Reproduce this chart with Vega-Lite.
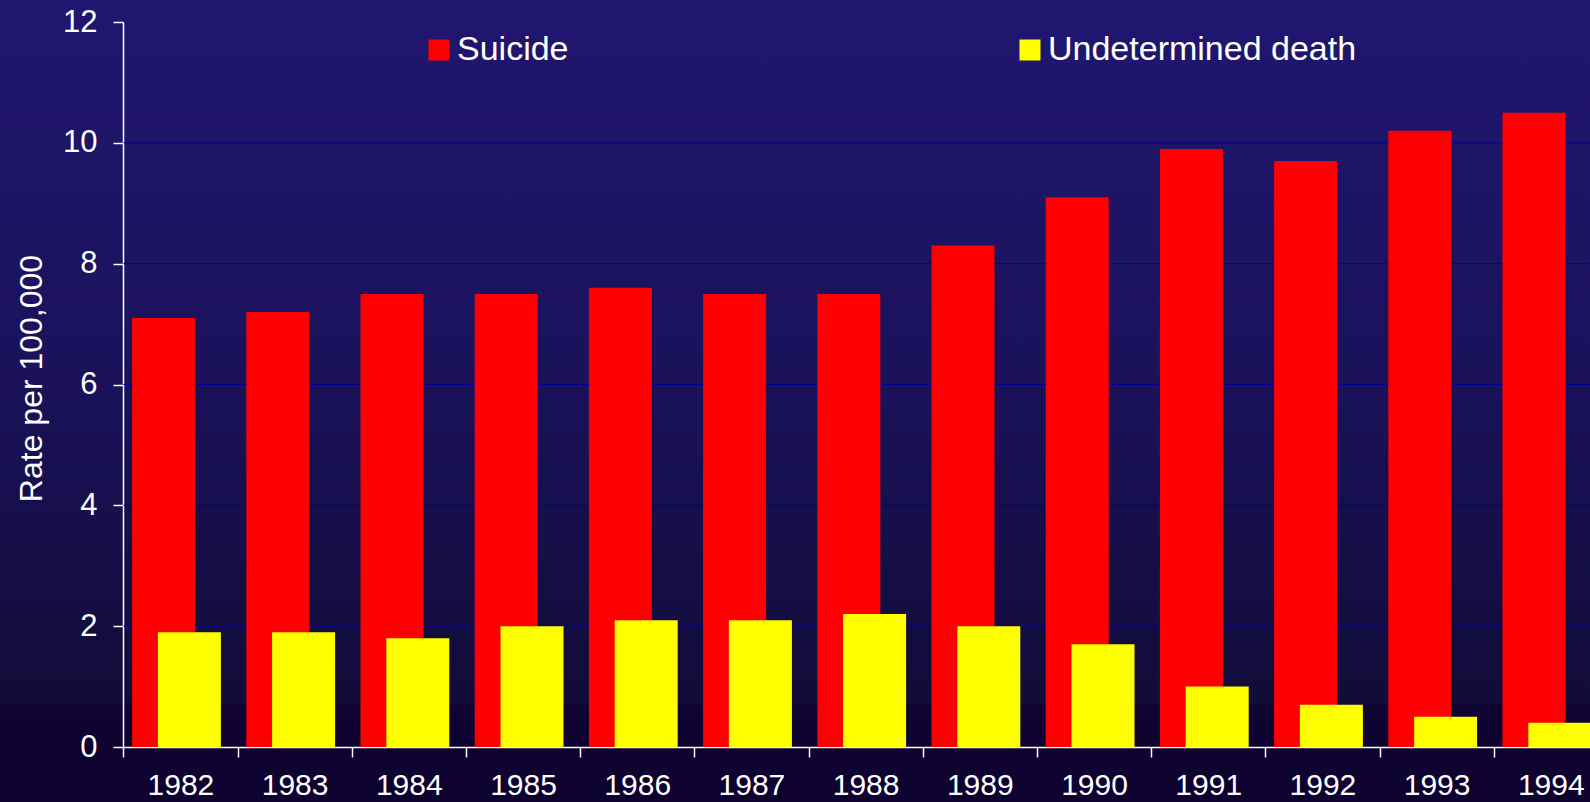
{
  "$schema": "https://vega.github.io/schema/vega-lite/v6.json",
  "width": 1590,
  "height": 802,
  "autosize": {"type": "none"},
  "padding": 0,
  "background": "#0d0230",
  "view": {
    "stroke": null,
    "fill": {
      "gradient": "linear",
      "x1": 0, "y1": 0, "x2": 0, "y2": 1,
      "stops": [
        {"offset": 0, "color": "#211670"},
        {"offset": 0.45, "color": "#1b125c"},
        {"offset": 0.878, "color": "#110c38"},
        {"offset": 0.879, "color": "#0e0331"},
        {"offset": 1, "color": "#0d0230"}
      ]
    }
  },
  "config": {"font": "Liberation Sans"},
  "datasets": {
    "rates": [
      {"year": "1982", "series": "Suicide", "rate": 7.1},
      {"year": "1983", "series": "Suicide", "rate": 7.2},
      {"year": "1984", "series": "Suicide", "rate": 7.5},
      {"year": "1985", "series": "Suicide", "rate": 7.5},
      {"year": "1986", "series": "Suicide", "rate": 7.6},
      {"year": "1987", "series": "Suicide", "rate": 7.5},
      {"year": "1988", "series": "Suicide", "rate": 7.5},
      {"year": "1989", "series": "Suicide", "rate": 8.3},
      {"year": "1990", "series": "Suicide", "rate": 9.1},
      {"year": "1991", "series": "Suicide", "rate": 9.9},
      {"year": "1992", "series": "Suicide", "rate": 9.7},
      {"year": "1993", "series": "Suicide", "rate": 10.2},
      {"year": "1994", "series": "Suicide", "rate": 10.5},
      {"year": "1982", "series": "Undetermined death", "rate": 1.9},
      {"year": "1983", "series": "Undetermined death", "rate": 1.9},
      {"year": "1984", "series": "Undetermined death", "rate": 1.8},
      {"year": "1985", "series": "Undetermined death", "rate": 2.0},
      {"year": "1986", "series": "Undetermined death", "rate": 2.1},
      {"year": "1987", "series": "Undetermined death", "rate": 2.1},
      {"year": "1988", "series": "Undetermined death", "rate": 2.2},
      {"year": "1989", "series": "Undetermined death", "rate": 2.0},
      {"year": "1990", "series": "Undetermined death", "rate": 1.7},
      {"year": "1991", "series": "Undetermined death", "rate": 1.0},
      {"year": "1992", "series": "Undetermined death", "rate": 0.7},
      {"year": "1993", "series": "Undetermined death", "rate": 0.5},
      {"year": "1994", "series": "Undetermined death", "rate": 0.4}
    ],
    "grid": [
      {"g": 2}, {"g": 4}, {"g": 6}, {"g": 8}, {"g": 10}
    ]
  },
  "data": {"name": "rates"},
  "encoding": {
    "x": {
      "field": "year",
      "type": "ordinal",
      "scale": {"type": "band", "range": [123.3, 1607.9], "paddingInner": 0, "paddingOuter": 0},
      "axis": {
        "offset": -55,
        "tickBand": "extent",
        "labelAngle": 0,
        "title": null,
        "grid": false,
        "domainColor": "#ffffff",
        "domainWidth": 1.5,
        "tickColor": "#ffffff",
        "tickWidth": 1.5,
        "tickSize": 10,
        "labelColor": "#ffffff",
        "labelFontSize": 30,
        "labelPadding": 13
      }
    },
    "y": {
      "field": "rate",
      "type": "quantitative",
      "scale": {"domain": [0, 12], "range": [747, 22], "nice": false},
      "axis": {
        "values": [0, 2, 4, 6, 8, 10, 12],
        "offset": -123,
        "grid": false,
        "domainColor": "#ffffff",
        "domainWidth": 1.5,
        "tickColor": "#ffffff",
        "tickWidth": 1.5,
        "tickSize": 10,
        "labelColor": "#ffffff",
        "labelFontSize": 31,
        "labelPadding": 16,
        "title": "Rate per 100,000",
        "titleColor": "#ffffff",
        "titleFontSize": 32,
        "titleFontWeight": "normal",
        "titleAngle": 270,
        "titleAlign": "center",
        "titleBaseline": "alphabetic",
        "titleX": -82,
        "titleY": 378
      }
    },
    "color": {
      "field": "series",
      "type": "nominal",
      "scale": {"domain": ["Suicide", "Undetermined death"], "range": ["#ff0000", "#ffff00"]},
      "legend": {
        "orient": "none",
        "legendX": 422,
        "legendY": 33,
        "direction": "horizontal",
        "columns": 2,
        "columnPadding": 444,
        "title": null,
        "padding": 0,
        "symbolType": "square",
        "symbolSize": 441,
        "symbolStrokeWidth": 0,
        "symbolOpacity": 1,
        "labelColor": "#ffffff",
        "labelFontSize": 34,
        "labelOffset": 1,
        "labelLimit": 0
      }
    }
  },
  "layer": [
    {
      "data": {"name": "grid"},
      "mark": {"type": "rule", "strokeWidth": 1},
      "encoding": {
        "y": {"field": "g", "type": "quantitative"},
        "x": {"datum": "1982", "type": "ordinal", "bandPosition": 0},
        "x2": {"datum": "1994", "bandPosition": 1},
        "color": {"value": "#000095"}
      }
    },
    {
      "transform": [{"filter": "datum.series === 'Suicide'"}],
      "mark": {"type": "bar", "width": 63, "xOffset": -16.8}
    },
    {
      "transform": [{"filter": "datum.series === 'Undetermined death'"}],
      "mark": {"type": "bar", "width": 63, "xOffset": 9}
    }
  ]
}
